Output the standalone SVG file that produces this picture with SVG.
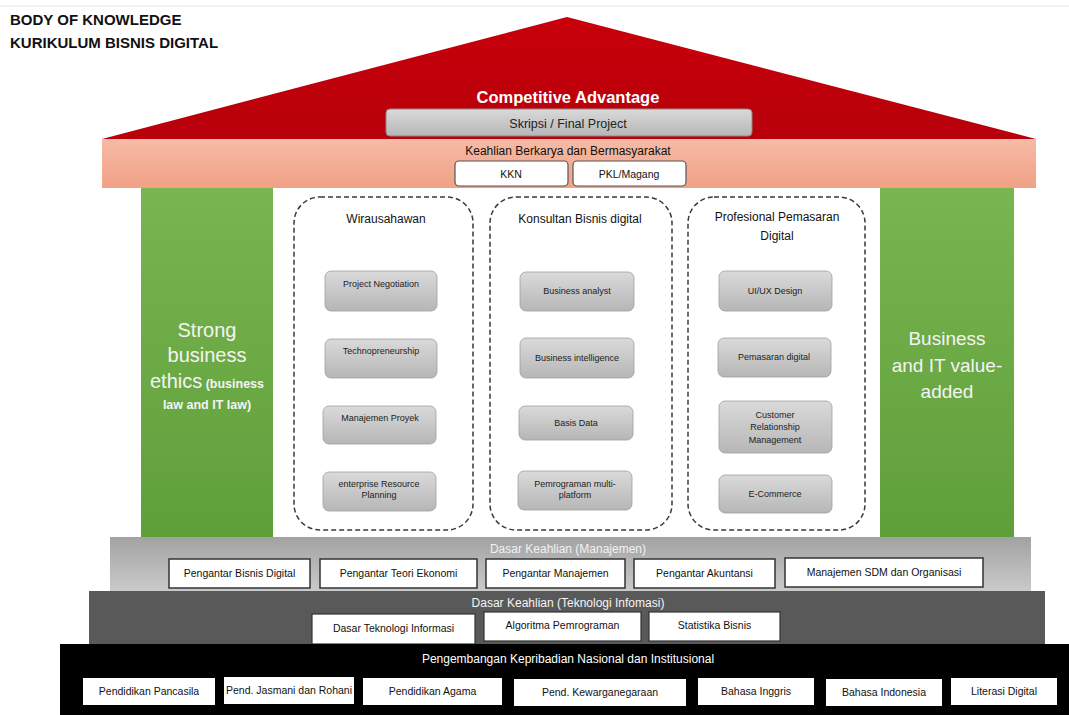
<svg xmlns="http://www.w3.org/2000/svg" width="1069" height="715" viewBox="0 0 1069 715">
<defs>
<linearGradient id="gRoof" x1="0" y1="0" x2="0" y2="1"><stop offset="0" stop-color="#c8000a"/><stop offset="1" stop-color="#b8000a"/></linearGradient>
<linearGradient id="gSalmon" x1="0" y1="0" x2="0" y2="1"><stop offset="0" stop-color="#f6bba6"/><stop offset="1" stop-color="#f1a185"/></linearGradient>
<linearGradient id="gGreen" x1="0" y1="0" x2="0" y2="1"><stop offset="0" stop-color="#79b551"/><stop offset="1" stop-color="#5f9f3a"/></linearGradient>
<linearGradient id="gBox" x1="0" y1="0" x2="0" y2="1"><stop offset="0" stop-color="#dadada"/><stop offset="1" stop-color="#b6b6b6"/></linearGradient>
<linearGradient id="gLight" x1="0" y1="0" x2="0" y2="1"><stop offset="0" stop-color="#a2a2a2"/><stop offset="1" stop-color="#cacaca"/></linearGradient>
<style>
text{font-family:"Liberation Sans",Arial,sans-serif;}
.title{font-size:15px;font-weight:bold;fill:#111;}
.dash{fill:#fff;stroke:#3a3a3a;stroke-width:1.5;stroke-dasharray:5 3;}
.ibox{fill:url(#gBox);stroke:#9e9e9e;stroke-width:0.8;}
.itxt{font-size:9px;fill:#222;text-anchor:middle;}
.htxt{font-size:12px;fill:#111;text-anchor:middle;}
.wbox{fill:#fff;stroke:#333;stroke-width:1.5;}
.btxt{font-size:10.5px;fill:#111;text-anchor:middle;}
.gtxt{fill:#f4f4f4;text-anchor:middle;}
.big{font-size:20px;}
.small{font-size:12.5px;font-weight:bold;}
.band{font-size:12px;text-anchor:middle;}
</style>
</defs>
<line x1="0" y1="6" x2="1069" y2="6" stroke="#e4e4e4" stroke-width="1"/>
<g id="title">
<text class="title" x="10" y="25">BODY OF KNOWLEDGE</text>
<text class="title" x="10" y="48">KURIKULUM BISNIS DIGITAL</text>
</g>
<g id="roof">
<polygon points="102,139 567,17 1036,139" fill="url(#gRoof)"/>
<text x="568" y="103" font-size="16.5" font-weight="bold" fill="#fff" text-anchor="middle">Competitive Advantage</text>
</g>
<g id="skripsi">
<rect x="386" y="109" width="366" height="27" rx="4" fill="url(#gBox)" stroke="#8a8a8a" stroke-width="1"/>
<text x="568" y="128" font-size="12.5" fill="#222" text-anchor="middle">Skripsi / Final Project</text>
</g>
<g id="keahlian-berkarya">
<rect x="102" y="139" width="934" height="49" fill="url(#gSalmon)"/>
<text class="htxt" x="568" y="155" font-size="11.5" fill="#222">Keahlian Berkarya dan Bermasyarakat</text>
</g>
<g id="kkn">
<rect x="455" y="161" width="113" height="25" rx="4" fill="#fff" stroke="#555" stroke-width="1.2"/>
<text class="btxt" x="511" y="178">KKN</text>
</g>
<g id="pkl">
<rect x="573" y="161" width="113" height="25" rx="4" fill="#fff" stroke="#555" stroke-width="1.2"/>
<text class="btxt" x="629" y="178">PKL/Magang</text>
</g>
<g id="pillar-left">
<rect x="141" y="188" width="132" height="349" fill="url(#gGreen)"/>
<text class="gtxt big" x="207" y="337">Strong</text>
<text class="gtxt big" x="207" y="362">business</text>
<text class="gtxt" x="207" y="388"><tspan class="big">ethics</tspan><tspan class="small"> (business</tspan></text>
<text class="gtxt small" x="207" y="409">law and IT law)</text>
</g>
<g id="pillar-right">
<rect x="880" y="188" width="134" height="349" fill="url(#gGreen)"/>
<text class="gtxt" x="947" y="345" font-size="19">Business</text>
<text class="gtxt" x="947" y="372" font-size="19">and IT value-</text>
<text class="gtxt" x="947" y="398" font-size="19">added</text>
</g>
<g id="wirausahawan">
<rect class="dash" x="294" y="197" width="179" height="333" rx="26"/>
<text class="htxt" x="386" y="223">Wirausahawan</text>
</g>
<g id="konsultan">
<rect class="dash" x="490" y="197" width="182" height="333" rx="26"/>
<text class="htxt" x="580" y="223">Konsultan Bisnis digital</text>
</g>
<g id="profesional">
<rect class="dash" x="688" y="197" width="177" height="333" rx="26"/>
<text class="htxt" x="777" y="221">Profesional Pemasaran</text>
<text class="htxt" x="777" y="240">Digital</text>
</g>
<g id="project-negotiation"><rect class="ibox" x="325" y="271" width="112" height="40" rx="6"/><text class="itxt" x="381" y="287">Project Negotiation</text></g>
<g id="technopreneurship"><rect class="ibox" x="325" y="339" width="112" height="39" rx="6"/><text class="itxt" x="381" y="354">Technopreneurship</text></g>
<g id="manajemen-proyek"><rect class="ibox" x="323" y="406" width="113" height="38" rx="6"/><text class="itxt" x="380" y="421">Manajemen Proyek</text></g>
<g id="erp"><rect class="ibox" x="323" y="472" width="113" height="39" rx="6"/><text class="itxt" x="379" y="487">enterprise Resource</text><text class="itxt" x="379" y="498">Planning</text></g>
<g id="business-analyst"><rect class="ibox" x="520" y="272" width="114" height="39" rx="6"/><text class="itxt" x="577" y="294">Business analyst</text></g>
<g id="business-intelligence"><rect class="ibox" x="520" y="338" width="114" height="40" rx="6"/><text class="itxt" x="577" y="361">Business intelligence</text></g>
<g id="basis-data"><rect class="ibox" x="519" y="406" width="114" height="34" rx="6"/><text class="itxt" x="576" y="426">Basis Data</text></g>
<g id="pemrograman"><rect class="ibox" x="518" y="471" width="114" height="39" rx="6"/><text class="itxt" x="575" y="487">Pemrograman multi-</text><text class="itxt" x="575" y="498">platform</text></g>
<g id="uiux"><rect class="ibox" x="719" y="271" width="113" height="40" rx="6"/><text class="itxt" x="775" y="294">UI/UX Design</text></g>
<g id="pemasaran-digital"><rect class="ibox" x="718" y="338" width="113" height="39" rx="6"/><text class="itxt" x="774" y="360">Pemasaran digital</text></g>
<g id="crm"><rect class="ibox" x="719" y="401" width="113" height="52" rx="6"/><text class="itxt" x="775" y="418">Customer</text><text class="itxt" x="775" y="430">Relationship</text><text class="itxt" x="775" y="443">Management</text></g>
<g id="ecommerce"><rect class="ibox" x="719" y="475" width="113" height="38" rx="6"/><text class="itxt" x="775" y="497">E-Commerce</text></g>
<g id="dasar-manajemen">
<rect x="110" y="537" width="921" height="54" fill="url(#gLight)"/>
<text class="band" x="568" y="553" fill="#f2f2f2">Dasar Keahlian (Manajemen)</text>
</g>
<g id="pengantar-bisnis-digital"><rect class="wbox" x="169" y="559" width="141" height="29"/><text class="btxt" x="239.5" y="577">Pengantar Bisnis Digital</text></g>
<g id="pengantar-teori-ekonomi"><rect class="wbox" x="320" y="559" width="157" height="29"/><text class="btxt" x="398.5" y="577">Pengantar Teori Ekonomi</text></g>
<g id="pengantar-manajemen"><rect class="wbox" x="486" y="559" width="139" height="29"/><text class="btxt" x="555.5" y="577">Pengantar Manajemen</text></g>
<g id="pengantar-akuntansi"><rect class="wbox" x="634" y="559" width="141" height="29"/><text class="btxt" x="704.5" y="577">Pengantar Akuntansi</text></g>
<g id="manajemen-sdm"><rect class="wbox" x="785" y="558" width="198" height="29"/><text class="btxt" x="884" y="576">Manajemen SDM dan Organisasi</text></g>
<g id="dasar-ti">
<rect x="89" y="591" width="956" height="53" fill="#595959"/>
<text class="band" x="568" y="607" fill="#f4f4f4">Dasar Keahlian (Teknologi Infomasi)</text>
</g>
<g id="dasar-teknologi-informasi"><rect x="312" y="614" width="163" height="30" fill="#fff" stroke="#333" stroke-width="1.2"/><text class="btxt" x="393.5" y="632">Dasar Teknologi Informasi</text></g>
<g id="algoritma-pemrograman"><rect x="484" y="612" width="157" height="29" fill="#fff" stroke="#333" stroke-width="1.2"/><text class="btxt" x="562.5" y="629">Algoritma Pemrograman</text></g>
<g id="statistika-bisnis"><rect x="649" y="612" width="131" height="29" fill="#fff" stroke="#333" stroke-width="1.2"/><text class="btxt" x="714.5" y="629">Statistika Bisnis</text></g>
<g id="pengembangan">
<rect x="60" y="644" width="1009" height="71" fill="#000"/>
<text class="band" x="568" y="663" fill="#fff">Pengembangan Kepribadian Nasional dan Institusional</text>
</g>
<g id="pendidikan-pancasila"><rect x="83" y="678" width="132" height="27" fill="#fff"/><text class="btxt" x="149" y="695">Pendidikan Pancasila</text></g>
<g id="pend-jasmani"><rect x="224" y="677" width="130" height="27" fill="#fff"/><text class="btxt" x="289" y="694" font-size="10">Pend. Jasmani dan Rohani</text></g>
<g id="pendidikan-agama"><rect x="363" y="678" width="139" height="27" fill="#fff"/><text class="btxt" x="432.5" y="695">Pendidikan Agama</text></g>
<g id="pend-kewarganegaraan"><rect x="514" y="679" width="172" height="27" fill="#fff"/><text class="btxt" x="600" y="696">Pend. Kewarganegaraan</text></g>
<g id="bahasa-inggris"><rect x="698" y="678" width="116" height="27" fill="#fff"/><text class="btxt" x="756" y="695">Bahasa Inggris</text></g>
<g id="bahasa-indonesia"><rect x="826" y="679" width="116" height="27" fill="#fff"/><text class="btxt" x="884" y="696">Bahasa Indonesia</text></g>
<g id="literasi-digital"><rect x="951" y="678" width="106" height="27" fill="#fff"/><text class="btxt" x="1004" y="695">Literasi Digital</text></g>
<g id="connectors"></g>
</svg>
